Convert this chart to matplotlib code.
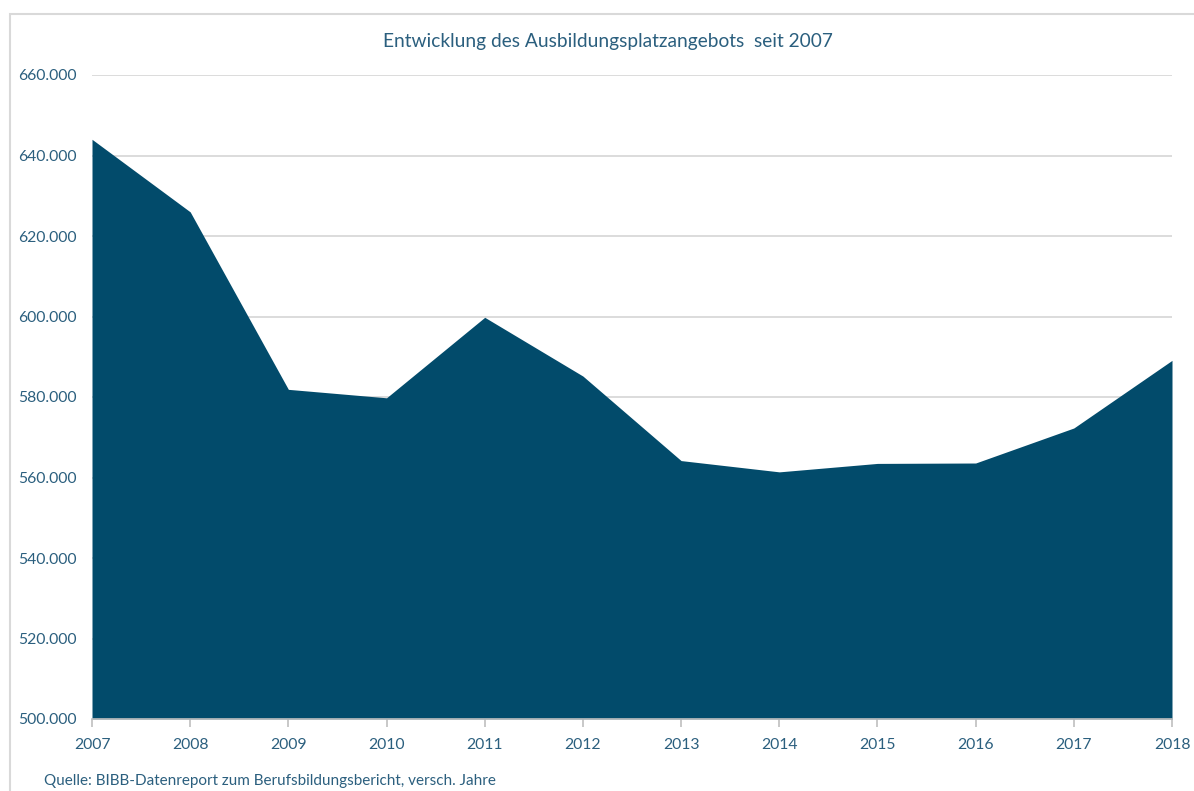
import matplotlib
matplotlib.use("Agg")
import matplotlib.pyplot as plt
from matplotlib.patches import Rectangle
from matplotlib.ticker import FuncFormatter

years = [2007, 2008, 2009, 2010, 2011, 2012, 2013, 2014, 2015, 2016, 2017, 2018]
angebot = [644028, 626000, 581900, 579800, 599800, 585200, 564200, 561400, 563500, 563600, 572300, 589100]

title = "Entwicklung des Ausbildungsplatzangebots  seit 2007"
source = "Quelle: BIBB-Datenreport zum Berufsbildungsbericht, versch. Jahre"

plt.rcParams['font.family'] = ['Lato', 'DejaVu Sans']
text_col = "#2b5f7e"
fill_col = "#024b6b"
grid_col = "#d9d9d9"

fig = plt.figure(figsize=(11.94, 7.91), dpi=100)
fig.patches.append(Rectangle((10/1194, -0.05), 1.1, 0.05 + (791-14)/791,
                             transform=fig.transFigure, fill=False,
                             edgecolor="#d9d9d9", linewidth=1.5, clip_on=False))

ax = fig.add_axes([92/1194, 1-719/791, (1172-92)/1194, (719-75)/791])
ax.fill_between(years, angebot, 500000, color=fill_col, linewidth=0, zorder=2)
ax.set_xlim(2007, 2018)
ax.set_ylim(500000, 660000)
ax.set_yticks(range(500000, 660001, 20000))
ax.yaxis.set_major_formatter(FuncFormatter(lambda v, p: f"{int(v):,}".replace(",", ".")))
ax.set_xticks(years)
ax.grid(axis='y', color=grid_col, linewidth=1.3, zorder=1)
ax.set_axisbelow(True)
for s in ['top', 'right', 'left']:
    ax.spines[s].set_visible(False)
ax.spines['bottom'].set_color("#bfbfbf")
ax.spines['bottom'].set_linewidth(1.2)
ax.spines['bottom'].set_zorder(3)
ax.tick_params(axis='y', length=0, pad=11, labelsize=11.3, labelcolor=text_col)
ax.tick_params(axis='x', length=6, width=1.2, color="#bfbfbf", pad=8, labelsize=11.3, labelcolor=text_col)

fig.text(608/1194, 1-42/791, title, ha='center', va='center', fontsize=13.8, color=text_col)
fig.text(44/1194, 1-781/791, source, ha='left', va='center', fontsize=11, color=text_col)

fig.savefig("out.png", dpi=100)
